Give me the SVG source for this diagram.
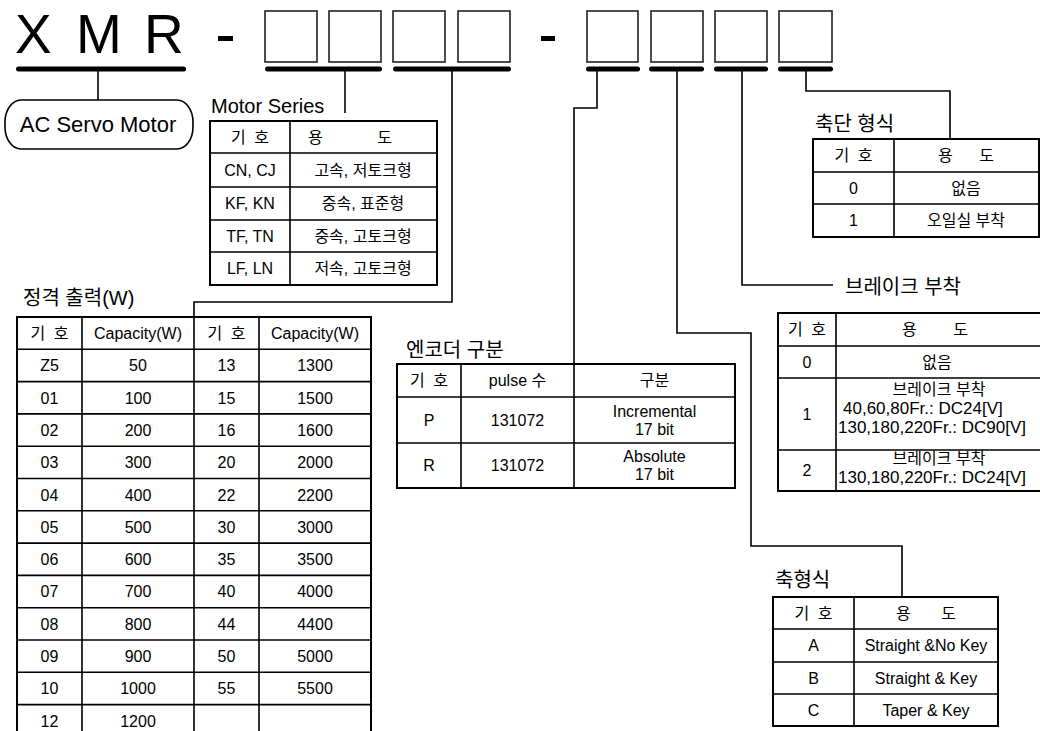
<svg xmlns="http://www.w3.org/2000/svg" width="1040" height="731" viewBox="0 0 1040 731">
<style>
text{font-family:"Liberation Sans","Noto Sans CJK KR",sans-serif;fill:#000}
.t{font-size:16px;text-anchor:middle}
.tl{font-size:17px}
.lbl{font-size:20px}
.big{font-size:55px}
.box{fill:#fff;stroke:#222;stroke-width:1.6}
.bar{stroke:#000;stroke-width:5;stroke-linecap:round}
.grid{fill:none;stroke:#000;stroke-width:1.6}
.outer{fill:none;stroke:#000;stroke-width:2}
.conn{fill:none;stroke:#000;stroke-width:1.6}
</style>
<rect width="1040" height="731" fill="#fff"/>
<g id="code-header">
<text class="big" x="15" y="53">X</text>
<text class="big" x="76" y="53">M</text>
<text class="big" x="144" y="53">R</text>
<rect x="218" y="36" width="15" height="5" fill="#000"/>
<rect x="541" y="36" width="14" height="5" fill="#000"/>
<rect class="box" x="265" y="11" width="52" height="51"/>
<rect class="box" x="329" y="11" width="52" height="51"/>
<rect class="box" x="393" y="11" width="52" height="51"/>
<rect class="box" x="458" y="11" width="52" height="51"/>
<rect class="box" x="587" y="11" width="51" height="51"/>
<rect class="box" x="651" y="11" width="52" height="51"/>
<rect class="box" x="715" y="11" width="52" height="51"/>
<rect class="box" x="779" y="11" width="53" height="51"/>
<line class="bar" x1="18.5" y1="69" x2="183.5" y2="69"/>
<line class="bar" x1="267.5" y1="69" x2="379.5" y2="69"/>
<line class="bar" x1="395.5" y1="69" x2="508.5" y2="69"/>
<line class="bar" x1="588.5" y1="69" x2="637.5" y2="69"/>
<line class="bar" x1="651.5" y1="69" x2="701.5" y2="69"/>
<line class="bar" x1="716.5" y1="69" x2="765.5" y2="69"/>
<line class="bar" x1="780.5" y1="69" x2="830.5" y2="69"/>
</g>
<g id="connectors">
<path class="conn" d="M98,69V100"/>
<path class="conn" d="M345,69V113"/>
<path class="conn" d="M452,69V302H194V317"/>
<path class="conn" d="M597,69V108H574V364"/>
<path class="conn" d="M677,69V333H751V546H902V597"/>
<path class="conn" d="M742,69V285H833"/>
<path class="conn" d="M806,69V91H950V139"/>
</g>
<g id="ac-servo-motor">
<rect x="5" y="100" width="188" height="49" rx="16" ry="22" fill="#fff" stroke="#000" stroke-width="1.6"/>
<text x="98" y="132" style="font-size:22px;text-anchor:middle">AC Servo Motor</text>
</g>
<g id="motor-series">
<text class="lbl" x="211" y="113">Motor Series</text>
<rect class="outer" x="210" y="121" width="227" height="164"/>
<path class="grid" d="M290,121V285M210,153H437M210,187H437M210,220H437M210,252H437"/>
<text class="t" x="250" y="143" style="word-spacing:4px">기 호</text>
<text class="t" x="350" y="143" style="word-spacing:50px">용 도</text>
<text class="t" x="250" y="176">CN, CJ</text><text class="t" x="363" y="176">고속, 저토크형</text>
<text class="t" x="250" y="209">KF, KN</text><text class="t" x="363" y="209">중속, 표준형</text>
<text class="t" x="250" y="242">TF, TN</text><text class="t" x="363" y="242">중속, 고토크형</text>
<text class="t" x="250" y="274">LF, LN</text><text class="t" x="363" y="274">저속, 고토크형</text>
</g>
<g id="rated-output">
<text class="lbl" x="23" y="305">정격 출력(W)</text>
<rect class="outer" x="17" y="317" width="354" height="420"/>
<path class="grid" d="M82,317V737M194,317V737M259,317V737M17,349.3H371M17,381.6H371M17,413.9H371M17,446.2H371M17,478.5H371M17,510.8H371M17,543.1H371M17,575.4H371M17,607.7H371M17,640H371M17,672.3H371M17,704.6H371"/>
<text class="t" x="49.5" y="339" style="word-spacing:4px">기 호</text><text class="t" x="138" y="339">Capacity(W)</text><text class="t" x="226.5" y="339" style="word-spacing:4px">기 호</text><text class="t" x="315" y="339">Capacity(W)</text>
<text class="t" x="49.5" y="371.3">Z5</text><text class="t" x="138" y="371.3">50</text><text class="t" x="226.5" y="371.3">13</text><text class="t" x="315" y="371.3">1300</text>
<text class="t" x="49.5" y="403.6">01</text><text class="t" x="138" y="403.6">100</text><text class="t" x="226.5" y="403.6">15</text><text class="t" x="315" y="403.6">1500</text>
<text class="t" x="49.5" y="435.9">02</text><text class="t" x="138" y="435.9">200</text><text class="t" x="226.5" y="435.9">16</text><text class="t" x="315" y="435.9">1600</text>
<text class="t" x="49.5" y="468.2">03</text><text class="t" x="138" y="468.2">300</text><text class="t" x="226.5" y="468.2">20</text><text class="t" x="315" y="468.2">2000</text>
<text class="t" x="49.5" y="500.5">04</text><text class="t" x="138" y="500.5">400</text><text class="t" x="226.5" y="500.5">22</text><text class="t" x="315" y="500.5">2200</text>
<text class="t" x="49.5" y="532.8">05</text><text class="t" x="138" y="532.8">500</text><text class="t" x="226.5" y="532.8">30</text><text class="t" x="315" y="532.8">3000</text>
<text class="t" x="49.5" y="565.1">06</text><text class="t" x="138" y="565.1">600</text><text class="t" x="226.5" y="565.1">35</text><text class="t" x="315" y="565.1">3500</text>
<text class="t" x="49.5" y="597.4">07</text><text class="t" x="138" y="597.4">700</text><text class="t" x="226.5" y="597.4">40</text><text class="t" x="315" y="597.4">4000</text>
<text class="t" x="49.5" y="629.7">08</text><text class="t" x="138" y="629.7">800</text><text class="t" x="226.5" y="629.7">44</text><text class="t" x="315" y="629.7">4400</text>
<text class="t" x="49.5" y="662">09</text><text class="t" x="138" y="662">900</text><text class="t" x="226.5" y="662">50</text><text class="t" x="315" y="662">5000</text>
<text class="t" x="49.5" y="694.3">10</text><text class="t" x="138" y="694.3">1000</text><text class="t" x="226.5" y="694.3">55</text><text class="t" x="315" y="694.3">5500</text>
<text class="t" x="49.5" y="726.6">12</text><text class="t" x="138" y="726.6">1200</text>
</g>
<g id="encoder">
<text class="lbl" x="406" y="357">엔코더 구분</text>
<rect class="outer" x="397" y="364" width="338" height="124"/>
<path class="grid" d="M461,364V488M574,364V488M397,397H735M397,443H735"/>
<text class="t" x="429" y="386" style="word-spacing:4px">기 호</text><text class="t" x="517.5" y="386">pulse 수</text><text class="t" x="654.5" y="386">구분</text>
<text class="t" x="429" y="426">P</text><text class="t" x="517.5" y="426">131072</text>
<text class="t" x="654.5" y="417">Incremental</text><text class="t" x="654.5" y="435">17 bit</text>
<text class="t" x="429" y="471">R</text><text class="t" x="517.5" y="471">131072</text>
<text class="t" x="654.5" y="462">Absolute</text><text class="t" x="654.5" y="480">17 bit</text>
</g>
<g id="shaft-end">
<text class="lbl" x="815" y="131">축단 형식</text>
<rect class="outer" x="813" y="139" width="226" height="98"/>
<path class="grid" d="M894,139V237M813,172H1039M813,204H1039"/>
<text class="t" x="853.5" y="161" style="word-spacing:4px">기 호</text>
<text class="t" x="966" y="161" style="word-spacing:22px">용 도</text>
<text class="t" x="853.5" y="194">0</text><text class="t" x="966" y="194">없음</text>
<text class="t" x="853.5" y="226">1</text><text class="t" x="966" y="226">오일실 부착</text>
</g>
<g id="brake">
<text class="lbl" x="845" y="294">브레이크 부착</text>
<rect class="outer" x="778" y="313" width="270" height="178"/>
<path class="grid" d="M836,313V491M778,346H1048M778,378H1048M778,450H1048"/>
<text class="t" x="807" y="335" style="word-spacing:4px">기 호</text>
<text class="t" x="935" y="335" style="word-spacing:32px">용 도</text>
<text class="t" x="807" y="368">0</text><text class="t" x="937" y="368">없음</text>
<text class="t" x="807" y="420">1</text>
<text class="t" x="939" y="395">브레이크 부착</text>
<text class="tl" x="843" y="414">40,60,80Fr.: DC24[V]</text>
<text class="tl" x="838" y="433">130,180,220Fr.: DC90[V]</text>
<text class="t" x="807" y="476">2</text>
<text class="t" x="939" y="464">브레이크 부착</text>
<text class="tl" x="838" y="483">130,180,220Fr.: DC24[V]</text>
</g>
<g id="shaft-type">
<text class="lbl" x="775" y="587">축형식</text>
<rect class="outer" x="773" y="597" width="225" height="129"/>
<path class="grid" d="M854,597V726M773,629H998M773,662H998M773,694H998"/>
<text class="t" x="813.5" y="619" style="word-spacing:4px">기 호</text>
<text class="t" x="926" y="619" style="word-spacing:26px">용 도</text>
<text class="t" x="813.5" y="651">A</text><text class="t" x="926" y="651">Straight &amp;No Key</text>
<text class="t" x="813.5" y="684">B</text><text class="t" x="926" y="684">Straight &amp; Key</text>
<text class="t" x="813.5" y="716">C</text><text class="t" x="926" y="716">Taper &amp; Key</text>
</g>
</svg>
